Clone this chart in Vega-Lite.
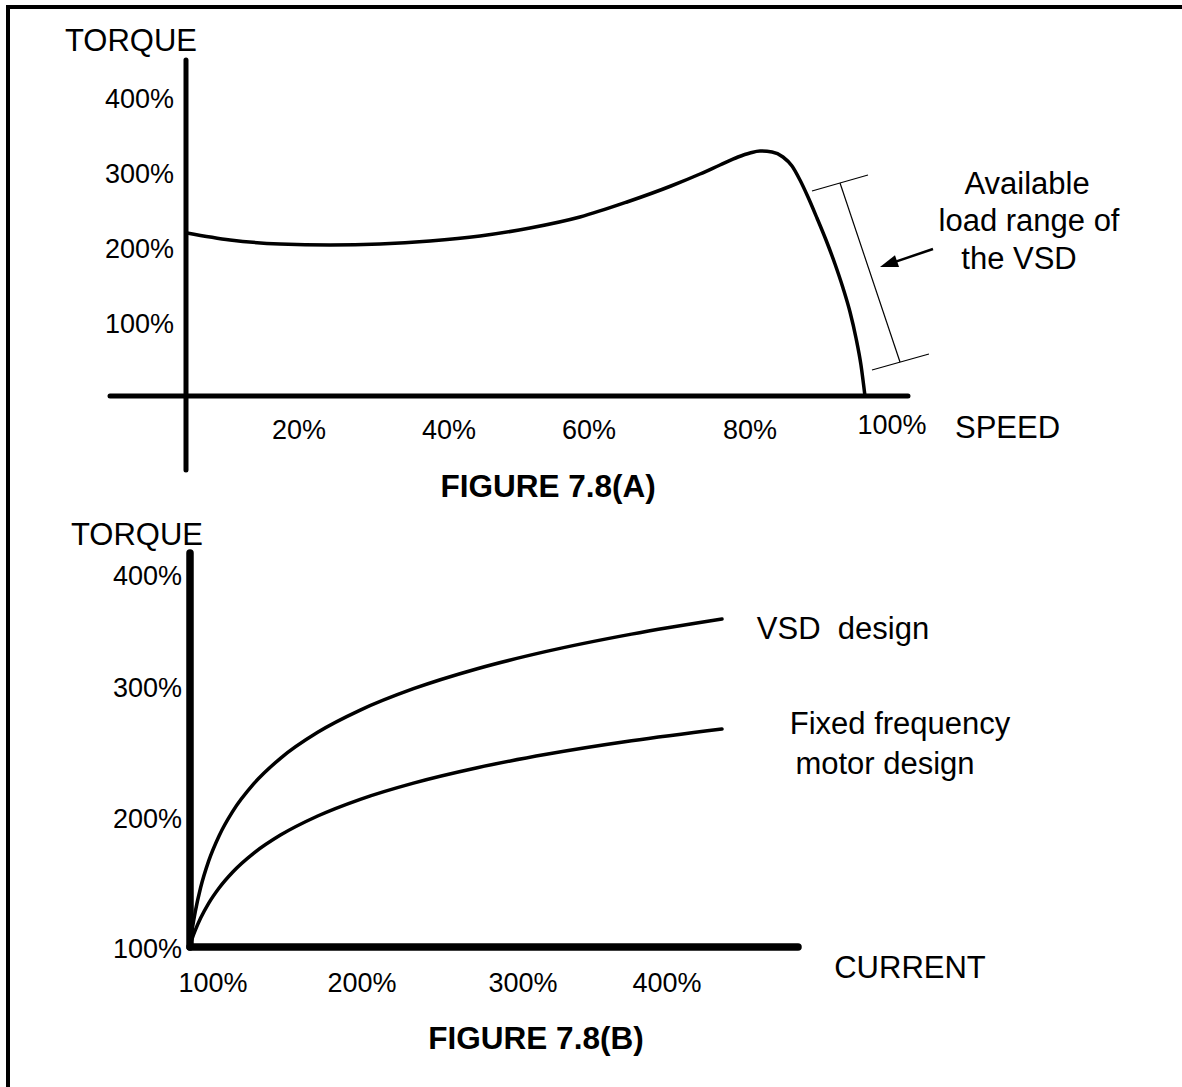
{
  "$schema": "https://vega.github.io/schema/vega-lite/v6.json",
  "padding": 0,
  "spacing": 0,
  "bounds": "flush",
  "background": "white",
  "config": {
    "view": {"stroke": null},
    "text": {"font": "Liberation Sans", "baseline": "middle", "align": "center", "color": "black"},
    "rule": {"color": "black"},
    "line": {"color": "black"}
  },
  "vconcat": [
    {
      "width": 1182,
      "height": 510,
      "encoding": {
        "x": {"field": "speed", "type": "quantitative", "scale": {"domain": [-27.353, 146.471], "nice": false, "zero": false}, "axis": null},
        "y": {"field": "torque", "type": "quantitative", "scale": {"domain": [-152, 528], "nice": false, "zero": false}, "axis": null}
      },
      "layer": [
        {
          "data": {"values": [
            {"speed": -26.47, "torque": 518.67, "speed2": 146.471, "torque2": 518.67},
            {"speed": -26.176, "torque": 521.33, "speed2": -26.176, "torque2": -154.67}
          ]},
          "mark": {"type": "rule", "strokeWidth": 4},
          "encoding": {"x2": {"field": "speed2"}, "y2": {"field": "torque2"}}
        },
        {
          "data": {"values": [
            {"speed": 0, "torque": 448, "speed2": 0, "torque2": -98.667},
            {"speed": -11.176, "torque": 0, "speed2": 106.176, "torque2": 0}
          ]},
          "mark": {"type": "rule", "strokeWidth": 5, "strokeCap": "round"},
          "encoding": {"x2": {"field": "speed2"}, "y2": {"field": "torque2"}}
        },
        {
          "data": {"values": [
            {"speed": 0.147, "torque": 217.33},
            {"speed": 6.47, "torque": 208},
            {"speed": 13.82, "torque": 202.67},
            {"speed": 21.18, "torque": 201.33},
            {"speed": 28.53, "torque": 202.67},
            {"speed": 35.88, "torque": 206.67},
            {"speed": 43.24, "torque": 213.33},
            {"speed": 50.59, "torque": 224},
            {"speed": 57.94, "torque": 238.67},
            {"speed": 64.85, "torque": 258.67},
            {"speed": 71.32, "torque": 280},
            {"speed": 75.59, "torque": 296},
            {"speed": 78.53, "torque": 308},
            {"speed": 81.18, "torque": 318.67},
            {"speed": 82.94, "torque": 324},
            {"speed": 84.41, "torque": 326.67},
            {"speed": 86.18, "torque": 325.33},
            {"speed": 87.79, "torque": 318.67},
            {"speed": 89.12, "torque": 306.67},
            {"speed": 90.29, "torque": 288},
            {"speed": 91.47, "torque": 265.33},
            {"speed": 92.79, "torque": 237.33},
            {"speed": 94.12, "torque": 208},
            {"speed": 95.44, "torque": 176},
            {"speed": 96.62, "torque": 144},
            {"speed": 97.65, "torque": 112},
            {"speed": 98.53, "torque": 77.33},
            {"speed": 99.26, "torque": 41.33},
            {"speed": 99.85, "torque": 0}
          ]},
          "mark": {"type": "line", "strokeWidth": 3.5, "interpolate": "monotone", "strokeCap": "round"},
          "encoding": {}
        },
        {
          "data": {"values": [
            {"speed": 92.06, "torque": 273.33, "speed2": 100.29, "torque2": 294.67},
            {"speed": 96.18, "torque": 284, "speed2": 105, "torque2": 45.33},
            {"speed": 100.88, "torque": 34.67, "speed2": 109.26, "torque2": 56}
          ]},
          "mark": {"type": "rule", "strokeWidth": 1.2},
          "encoding": {"x2": {"field": "speed2"}, "y2": {"field": "torque2"}}
        },
        {
          "data": {"values": [
            {"speed": 109.85, "torque": 196, "speed2": 103.2, "torque2": 175.5}
          ]},
          "mark": {"type": "rule", "strokeWidth": 2.5},
          "encoding": {"x2": {"field": "speed2"}, "y2": {"field": "torque2"}}
        },
        {
          "data": {"values": [{"speed": 102.06, "torque": 172}]},
          "mark": {"type": "point", "shape": "M0,0L2,-0.7L2,0.7Z", "filled": true, "color": "black", "opacity": 1, "size": 324, "angle": 341, "strokeWidth": 0},
          "encoding": {}
        },
        {
          "data": {"values": [
            {"speed": -6.84, "torque": 394.67, "label": "400%"},
            {"speed": -6.84, "torque": 294.67, "label": "300%"},
            {"speed": -6.84, "torque": 194.67, "label": "200%"},
            {"speed": -6.84, "torque": 94.67, "label": "100%"},
            {"speed": 16.62, "torque": -46.67, "label": "20%"},
            {"speed": 38.68, "torque": -46.67, "label": "40%"},
            {"speed": 59.26, "torque": -46.67, "label": "60%"},
            {"speed": 82.94, "torque": -46.67, "label": "80%"},
            {"speed": 103.82, "torque": -40, "label": "100%"}
          ]},
          "mark": {"type": "text", "fontSize": 27},
          "encoding": {"text": {"field": "label"}}
        },
        {
          "data": {"values": [
            {"speed": -8.09, "torque": 472, "label": "TORQUE"},
            {"speed": 120.81, "torque": -44, "label": "SPEED"},
            {"speed": 123.68, "torque": 281.33, "label": "Available"},
            {"speed": 123.97, "torque": 232, "label": "load range of"},
            {"speed": 122.5, "torque": 181.33, "label": "the VSD"}
          ]},
          "mark": {"type": "text", "fontSize": 31},
          "encoding": {"text": {"field": "label"}}
        },
        {
          "data": {"values": [
            {"speed": 53.24, "torque": -122.67, "label": "FIGURE 7.8(A)"}
          ]},
          "mark": {"type": "text", "fontSize": 31.5, "fontWeight": "bold"},
          "encoding": {"text": {"field": "label"}}
        }
      ]
    },
    {
      "width": 1182,
      "height": 577,
      "encoding": {
        "x": {"field": "current", "type": "quantitative", "scale": {"domain": [-26.667, 761.333], "nice": false, "zero": false}, "axis": null},
        "y": {"field": "torque", "type": "quantitative", "scale": {"domain": [-7.69, 436.15], "nice": false, "zero": false}, "axis": null}
      },
      "layer": [
        {
          "data": {"values": [
            {"current": -21.333, "torque": 437.69, "current2": -21.333, "torque2": -10}
          ]},
          "mark": {"type": "rule", "strokeWidth": 4},
          "encoding": {"x2": {"field": "current2"}, "y2": {"field": "torque2"}}
        },
        {
          "data": {"values": [
            {"current": 100, "torque": 403.08, "current2": 100, "torque2": 100},
            {"current": 100, "torque": 100, "current2": 505.33, "torque2": 100}
          ]},
          "mark": {"type": "rule", "strokeWidth": 7.5, "strokeCap": "round"},
          "encoding": {"x2": {"field": "current2"}, "y2": {"field": "torque2"}}
        },
        {
          "data": {"values": [
            {"design": "VSD", "current": 100, "torque": 101.54},
            {"design": "VSD", "current": 100.71, "torque": 107.62},
            {"design": "VSD", "current": 101.77, "torque": 115.77},
            {"design": "VSD", "current": 103.55, "torque": 127.38},
            {"design": "VSD", "current": 107.09, "torque": 145.77},
            {"design": "VSD", "current": 112.41, "torque": 166.08},
            {"design": "VSD", "current": 119.51, "torque": 185.85},
            {"design": "VSD", "current": 128.37, "torque": 204.15},
            {"design": "VSD", "current": 142.56, "torque": 225.62},
            {"design": "VSD", "current": 160.29, "torque": 245.15},
            {"design": "VSD", "current": 185.12, "torque": 265.15},
            {"design": "VSD", "current": 213.49, "torque": 282.23},
            {"design": "VSD", "current": 248.96, "torque": 298.69},
            {"design": "VSD", "current": 291.52, "torque": 314.08},
            {"design": "VSD", "current": 337.63, "torque": 327.38},
            {"design": "VSD", "current": 394.38, "torque": 340.69},
            {"design": "VSD", "current": 454.67, "torque": 352.31},
            {"design": "Fixed", "current": 100, "torque": 101.54},
            {"design": "Fixed", "current": 100.71, "torque": 104},
            {"design": "Fixed", "current": 101.77, "torque": 107.54},
            {"design": "Fixed", "current": 103.55, "torque": 112.92},
            {"design": "Fixed", "current": 107.09, "torque": 122.23},
            {"design": "Fixed", "current": 112.41, "torque": 133.62},
            {"design": "Fixed", "current": 119.51, "torque": 145.62},
            {"design": "Fixed", "current": 128.37, "torque": 157.54},
            {"design": "Fixed", "current": 142.56, "torque": 172.23},
            {"design": "Fixed", "current": 160.29, "torque": 186.08},
            {"design": "Fixed", "current": 185.12, "torque": 200.77},
            {"design": "Fixed", "current": 213.49, "torque": 213.62},
            {"design": "Fixed", "current": 248.96, "torque": 226.08},
            {"design": "Fixed", "current": 291.52, "torque": 237.92},
            {"design": "Fixed", "current": 337.63, "torque": 248.23},
            {"design": "Fixed", "current": 394.38, "torque": 258.62},
            {"design": "Fixed", "current": 454.67, "torque": 267.69}
          ]},
          "mark": {"type": "line", "strokeWidth": 3.5, "interpolate": "monotone", "strokeCap": "round"},
          "encoding": {"detail": {"field": "design"}}
        },
        {
          "data": {"values": [
            {"current": 71.67, "torque": 384.62, "label": "400%"},
            {"current": 71.67, "torque": 298.46, "label": "300%"},
            {"current": 71.67, "torque": 197.69, "label": "200%"},
            {"current": 71.67, "torque": 97.69, "label": "100%"},
            {"current": 115.33, "torque": 71.54, "label": "100%"},
            {"current": 214.67, "torque": 71.54, "label": "200%"},
            {"current": 322, "torque": 71.54, "label": "300%"},
            {"current": 418, "torque": 71.54, "label": "400%"}
          ]},
          "mark": {"type": "text", "fontSize": 27},
          "encoding": {"text": {"field": "label"}}
        },
        {
          "data": {"values": [
            {"current": 64.67, "torque": 416.15, "label": "TORQUE"},
            {"current": 580, "torque": 83.08, "label": "CURRENT"},
            {"current": 535.33, "torque": 343.85, "label": "VSD\u00a0 design"},
            {"current": 573.33, "torque": 270.77, "label": "Fixed frequency"},
            {"current": 563.33, "torque": 240, "label": "motor design"}
          ]},
          "mark": {"type": "text", "fontSize": 31},
          "encoding": {"text": {"field": "label"}}
        },
        {
          "data": {"values": [
            {"current": 330.67, "torque": 28.46, "label": "FIGURE 7.8(B)"}
          ]},
          "mark": {"type": "text", "fontSize": 31.5, "fontWeight": "bold"},
          "encoding": {"text": {"field": "label"}}
        }
      ]
    }
  ]
}
